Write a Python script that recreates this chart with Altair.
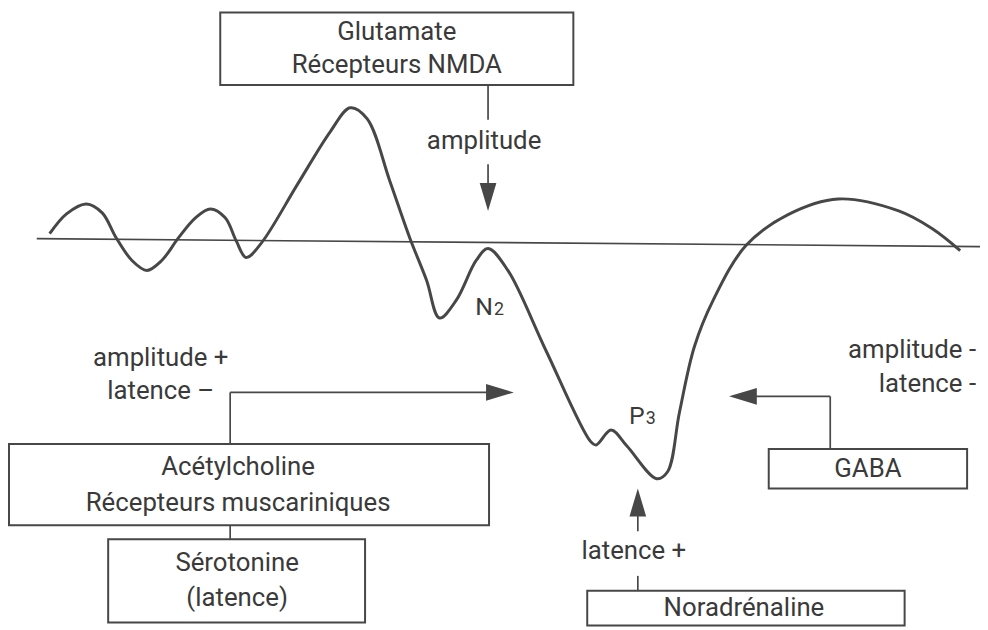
import altair as alt
import pandas as pd

# ---- data (page-pixel coordinates) ----
wave_x = [50, 67, 87, 103, 117, 133, 148, 163, 180, 197, 212, 227, 238, 248, 263, 300, 333, 353, 370, 393,
          413, 430, 443, 460, 480, 492, 512, 550, 595, 601, 616, 632, 662, 673, 685, 700, 719, 752, 794, 845,
          906, 940, 968]
wave_y = [233, 213, 203, 212, 237, 260, 270, 260, 237, 217, 208, 217, 240, 257, 243, 183, 130, 106, 117, 180,
          237, 280, 318, 300, 260, 248, 270, 350, 442, 446, 431, 447, 480, 473, 413, 347, 300, 245, 214, 198,
          210, 228, 250]

box_x1 = [222, 9, 109, 775, 592]
box_y1 = [10, 445, 541, 450, 593]
box_x2 = [578, 493, 368, 975, 912]
box_y2 = [83, 527, 625, 490, 628]

seg_x1 = [37, 492, 492, 232, 232, 232, 837, 837, 643, 643]
seg_y1 = [238, 83, 163, 445, 393, 527, 450, 397, 593, 533]
seg_x2 = [988, 492, 492, 232, 492, 232, 837, 762, 643, 643]
seg_y2 = [246, 118, 185, 393, 393, 541, 397, 397, 578, 516]

arrow_x = [492, 504, 749, 643]
arrow_y = [196, 393, 397, 504]
arrow_shape = ["M-0.6,-1L0.6,-1L0,1Z", "M-1,-0.6L1,0L-1,0.6Z", "M1,-0.6L-1,0L1,0.6Z", "M-0.6,1L0.6,1L0,-1Z"]

lab_text = ["Glutamate", "Récepteurs NMDA", "amplitude", "amplitude +", "latence –",
            "Acétylcholine", "Récepteurs muscariniques", "Sérotonine", "(latence)",
            "amplitude -", "latence -", "GABA", "latence +", "Noradrénaline"]
lab_x = [400, 400, 488, 162, 162, 240, 240, 239, 239, 984, 984, 875, 639, 750]
lab_y = [30, 63, 140, 358, 392, 468, 505, 565, 600, 350, 385, 470, 553, 610]
lab_align = ["center", "center", "center", "center", "center", "center", "center", "center", "center",
             "right", "right", "center", "center", "center"]

peak_text = ["N", "2", "P", "3"]
peak_x = [479, 498, 634, 651]
peak_y = [315, 315, 425, 425]
peak_size = [25, 18, 25, 18]

# ---- build ----
FONT = "Roboto, Liberation Sans, sans-serif"
INK = "#474747"
TXT = "#3a3a3a"

xs = alt.Scale(domain=[8, 988], nice=False, zero=False)
ys = alt.Scale(domain=[8, 630], nice=False, zero=False, reverse=True)

wave = pd.DataFrame({"x": wave_x, "y": wave_y, "i": range(len(wave_x))})
boxes = pd.DataFrame({"x": box_x1, "y": box_y1, "x2": box_x2, "y2": box_y2})
segs = pd.DataFrame({"x": seg_x1, "y": seg_y1, "x2": seg_x2, "y2": seg_y2})
arrows = pd.DataFrame({"x": arrow_x, "y": arrow_y, "shape": arrow_shape})
labels = pd.DataFrame({"t": lab_text, "x": lab_x, "y": lab_y, "a": lab_align})
peaks = pd.DataFrame({"t": peak_text, "x": peak_x, "y": peak_y, "s": peak_size})

X = alt.X("x:Q", scale=xs, axis=None)
Y = alt.Y("y:Q", scale=ys, axis=None)

box_layer = alt.Chart(boxes).mark_rect(fill="white", stroke=INK, strokeWidth=2).encode(
    x=X, y=Y, x2="x2:Q", y2="y2:Q")

seg_layer = alt.Chart(segs).mark_rule(color=INK, strokeWidth=1.7).encode(
    x=X, y=Y, x2="x2:Q", y2="y2:Q")

wave_layer = alt.Chart(wave).mark_line(color=INK, strokeWidth=3, interpolate="catmull-rom").encode(
    x=X, y=Y, order="i:Q")

arrow_layer = alt.Chart(arrows).mark_point(filled=True, color=INK, opacity=1, size=784).encode(
    x=X, y=Y, shape=alt.Shape("shape:N", scale=None))

center_lab = alt.Chart(labels).transform_filter("datum.a == 'center'").mark_text(
    font=FONT, fontSize=26, color=TXT, align="center", baseline="middle").encode(x=X, y=Y, text="t:N")
right_lab = alt.Chart(labels).transform_filter("datum.a == 'right'").mark_text(
    font=FONT, fontSize=26, color=TXT, align="right", baseline="middle").encode(x=X, y=Y, text="t:N")

peak_lab = alt.Chart(peaks).mark_text(font=FONT, color=TXT, align="left", baseline="alphabetic").encode(
    x=X, y=Y, text="t:N", size=alt.Size("s:Q", scale=None))

chart = alt.layer(box_layer, seg_layer, wave_layer, arrow_layer, center_lab, right_lab, peak_lab).properties(
    width=980, height=622, padding=0, autosize=alt.AutoSizeParams(type="none"), background="white"
).configure_view(stroke=None)

chart.save("out.html", embed_options={"renderer": "svg", "actions": False})
